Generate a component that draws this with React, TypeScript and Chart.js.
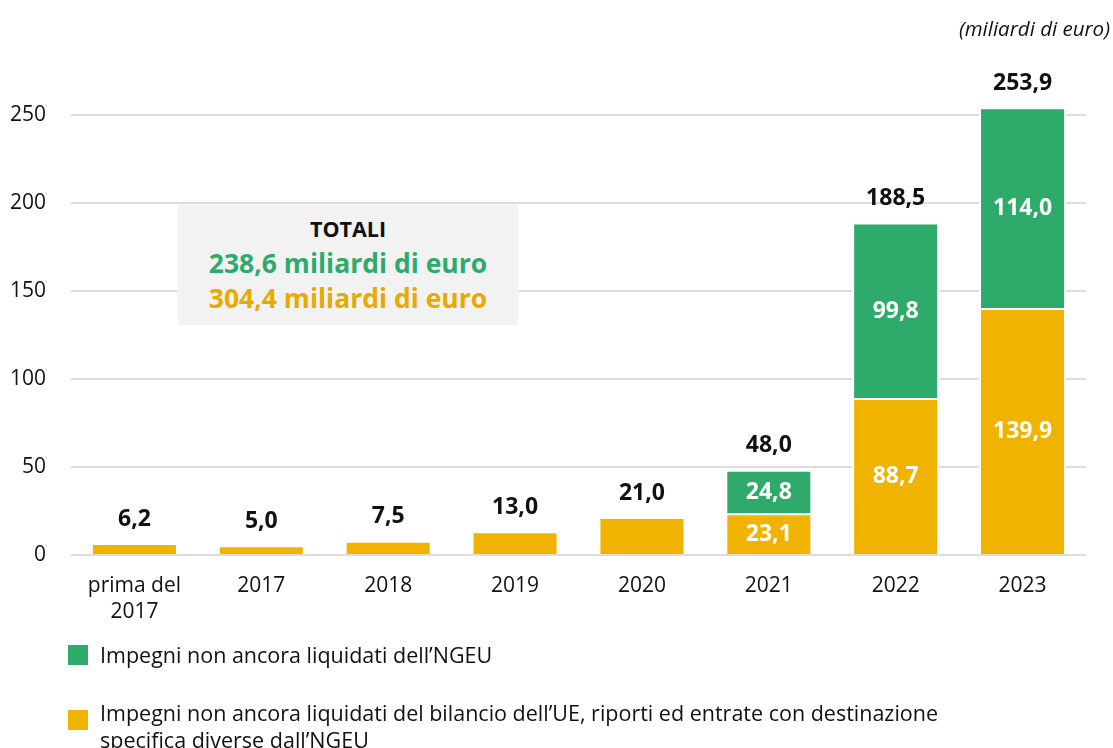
import React, { useEffect, useRef } from "react";
import { Chart, registerables } from "chart.js";

Chart.register(...registerables);

const categories: (string | string[])[] = [["prima del", "2017"], "2017", "2018", "2019", "2020", "2021", "2022", "2023"];
const budgetValues = [6.2, 5.0, 7.5, 13.0, 21.0, 23.1, 88.7, 139.9];
const ngeuValues: (number | null)[] = [null, null, null, null, null, 24.8, 99.8, 114.0];
const totalLabels = [6.2, 5.0, 7.5, 13.0, 21.0, 48.0, 188.5, 253.9];
const yTicks = [0, 50, 100, 150, 200, 250];

const legendNgeu = "Impegni non ancora liquidati dell\u2019NGEU";
const legendBudgetLine1 = "Impegni non ancora liquidati del bilancio dell\u2019UE, riporti ed entrate con destinazione";
const legendBudgetLine2 = "specifica diverse dall\u2019NGEU";
const totalsTitle = "TOTALI";
const totalNgeu = "238,6 miliardi di euro";
const totalBudget = "304,4 miliardi di euro";
const unitLabel = "(miliardi di euro)";

const GREEN = "#2eaa6a";
const YELLOW = "#f0b300";
const FONT = "'Open Sans', 'Noto Sans', sans-serif";

const fmt = (v: number) => v.toFixed(1).replace(".", ",");

const labelPlugin = {
  id: "barLabels",
  afterDatasetsDraw(chart: any) {
    const ctx = chart.ctx;
    ctx.save();
    ctx.textAlign = "center";
    ctx.textBaseline = "middle";
    ctx.font = `bold 23px ${FONT}`;
    const metaB = chart.getDatasetMeta(0);
    const metaG = chart.getDatasetMeta(1);
    categories.forEach((_, i) => {
      const barB = metaB.data[i];
      const barG = metaG.data[i];
      const hasG = ngeuValues[i] !== null;
      let top = barB.y;
      if (hasG) {
        top = Math.min(top, barG.y);
        ctx.fillStyle = "#ffffff";
        ctx.fillText(fmt(budgetValues[i]), barB.x, (barB.y + barB.base) / 2);
        ctx.fillText(fmt(ngeuValues[i] as number), barG.x, (barG.y + barG.base) / 2);
      }
      ctx.fillStyle = "#111111";
      ctx.fillText(fmt(totalLabels[i]), barB.x, top - 25);
    });
    ctx.restore();
  },
};

export default function App() {
  const ref = useRef<HTMLCanvasElement | null>(null);

  useEffect(() => {
    if (!ref.current) return;
    const chart = new Chart(ref.current, {
      type: "bar",
      data: {
        labels: categories as any,
        datasets: [
          {
            label: legendBudgetLine1,
            data: budgetValues,
            backgroundColor: YELLOW,
            borderColor: "#ffffff",
            borderWidth: { top: 1, bottom: 1, left: 2, right: 2 },
            borderSkipped: "start",
            barPercentage: 0.686,
            categoryPercentage: 1,
          },
          {
            label: legendNgeu,
            data: ngeuValues,
            backgroundColor: GREEN,
            borderColor: "#ffffff",
            borderWidth: { top: 1, bottom: 1, left: 2, right: 2 },
            borderSkipped: false,
            barPercentage: 0.686,
            categoryPercentage: 1,
          },
        ],
      },
      options: {
        animation: false,
        responsive: false,
        maintainAspectRatio: false,
        layout: { padding: { top: 80, right: 27, left: 0, bottom: 0 } },
        plugins: {
          legend: { display: false },
          tooltip: { enabled: false },
          title: { display: false },
        },
        scales: {
          x: {
            stacked: true,
            grid: { display: false, drawTicks: false },
            border: { display: false },
            ticks: {
              color: "#111111",
              font: { family: FONT, size: 21, lineHeight: 1.25 },
              padding: 18,
              maxRotation: 0,
              autoSkip: false,
            },
            afterFit: (scale: any) => {
              scale.height = 193;
            },
          },
          y: {
            stacked: true,
            min: 0,
            max: 270,
            grid: { color: "#dddddd", lineWidth: 2, drawTicks: false },
            border: { display: false },
            ticks: {
              color: "#111111",
              font: { family: FONT, size: 21 },
              padding: 25,
            },
            afterBuildTicks: (scale: any) => {
              scale.ticks = yTicks.map((v) => ({ value: v }));
            },
            afterFit: (scale: any) => {
              scale.width = 71;
            },
          },
        },
      },
      plugins: [labelPlugin],
    });
    return () => chart.destroy();
  }, []);

  const text: React.CSSProperties = { position: "absolute", fontFamily: FONT, whiteSpace: "nowrap" };

  return (
    <div style={{ position: "fixed", left: 0, top: 0, width: 1113, height: 748, background: "#ffffff", overflow: "hidden" }}>
      <canvas ref={ref} width={1113} height={748} style={{ position: "absolute", left: 0, top: 0, width: 1113, height: 748 }} />
      <div style={{ ...text, right: 3, top: 14, fontSize: 20.5, fontStyle: "italic", color: "#111", lineHeight: "28px" }}>{unitLabel}</div>
      <div
        style={{
          position: "absolute",
          left: 178,
          top: 205,
          width: 340,
          height: 120,
          background: "#f2f2f2",
          fontFamily: FONT,
          fontWeight: 700,
          textAlign: "center",
        }}
      >
        <div style={{ position: "absolute", left: 0, right: 0, top: 24 - 14, fontSize: 21.5, lineHeight: "28px", color: "#111" }}>{totalsTitle}</div>
        <div style={{ position: "absolute", left: 0, right: 0, top: 58 - 18, fontSize: 26.5, lineHeight: "36px", color: GREEN }}>{totalNgeu}</div>
        <div style={{ position: "absolute", left: 0, right: 0, top: 93 - 18, fontSize: 26.5, lineHeight: "36px", color: "#e8aa00" }}>{totalBudget}</div>
      </div>
      <div style={{ position: "absolute", left: 68, top: 645, width: 20, height: 20, background: GREEN }} />
      <div style={{ ...text, left: 100, top: 655 - 15, fontSize: 21.5, lineHeight: "30px", color: "#111" }}>{legendNgeu}</div>
      <div style={{ position: "absolute", left: 68, top: 710, width: 20, height: 20, background: YELLOW }} />
      <div style={{ ...text, left: 100, top: 713 - 14, fontSize: 21.5, lineHeight: "27px", color: "#111" }}>
        {legendBudgetLine1}
        <br />
        {legendBudgetLine2}
      </div>
    </div>
  );
}
